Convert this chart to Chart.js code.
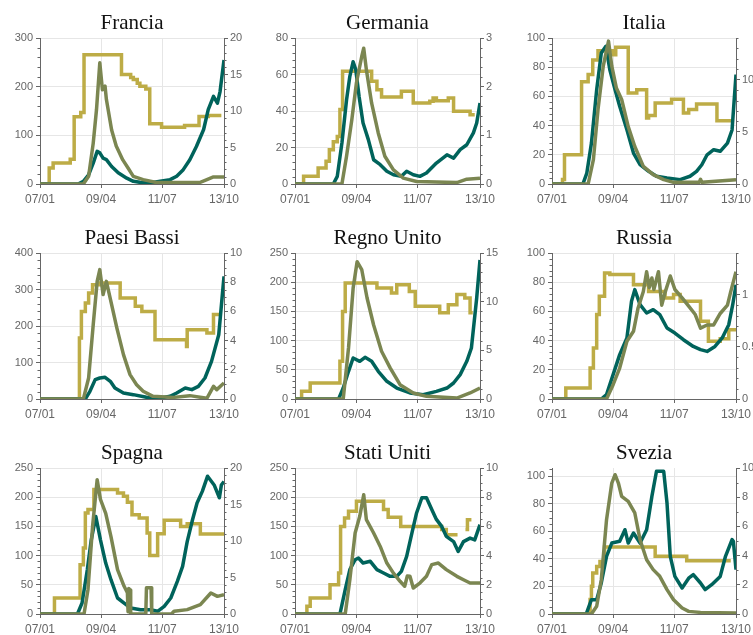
<!DOCTYPE html>
<html>
<head>
<meta charset="utf-8">
<script src="https://cdn.jsdelivr.net/npm/chart.js@4.4.0/dist/chart.umd.min.js"></script>
<style>
html, body { margin: 0; padding: 0; background: #fff; overflow: hidden; }
#wrap { position: relative; width: 753px; height: 635px; overflow: hidden; }
#wrap canvas { position: absolute; }
</style>
</head>
<body>
<div id="wrap"></div>
<script>
// asse x: giorni dal 7 gennaio 2020
const xTickDays = [0, 93, 186, 280];
const xTickLabels = ['07/01', '09/04', '11/07', '13/10'];

const paesi = ['Francia', 'Germania', 'Italia', 'Paesi Bassi', 'Regno Unito', 'Russia', 'Spagna', 'Stati Uniti', 'Svezia'];

const tickSinistra = [
    [0, 100, 200, 300], [0, 20, 40, 60, 80], [0, 20, 40, 60, 80, 100],
    [0, 100, 200, 300, 400], [0, 50, 100, 150, 200, 250], [0, 20, 40, 60, 80, 100],
    [0, 50, 100, 150, 200, 250], [0, 50, 100, 150, 200, 250], [0, 20, 40, 60, 80, 100]
];
const maxSinistra = [300, 80, 100, 400, 250, 100, 250, 250, 106];
const tickDestra = [
    [0, 5, 10, 15, 20], [0, 1, 2, 3], [0, 5, 10],
    [0, 2, 4, 6, 8, 10], [0, 5, 10, 15], [0, 0.5, 1],
    [0, 5, 10, 15, 20], [0, 2, 4, 6, 8, 10], [0, 2, 4, 6, 8, 10]
];
const maxDestra = [20, 3, 14, 10, 15, 1.4, 20, 10, 10];

// casi (asse sinistro), [giorno, valore]
const casiFrancia = [[0,0],[58,0],[66,5.5],[74,19],[81,43],[87,67],[91,64],[96,53],[101,50],[109,36],[119,23],[132,12],[142,5.5],[152,3.4],[167,2],[183,5.5],[198,9],[208,16],[218,29.5],[228,50],[238,77],[249,112],[256,153],[264,180],[270,166],[274,190],[280,255]];
const casiGermania = [[0,0],[58,0],[64,4.2],[71,22.5],[78,46],[83,59],[88,67],[92,62.6],[97,48],[103,33.4],[111,24.3],[119,13.3],[129,10.6],[139,7],[149,5.1],[161,4.2],[169,7],[179,5.1],[189,4.2],[199,6],[214,11.5],[230,16],[240,14.2],[250,18.8],[260,21.5],[270,28],[275,33.4],[280,44.4]];
const casiItalia = [[0,0],[47,0],[53,7.5],[60,28],[68,64.6],[75,89.7],[82,94.3],[88,78.3],[96,64.6],[103,53.2],[114,37.2],[124,21.2],[134,13.2],[147,8.7],[159,5.3],[175,4.1],[195,3],[210,5.3],[220,8.7],[228,13.2],[236,20],[246,23.5],[256,22.4],[267,28],[274,37],[280,75]];
const casiPaesiBassi = [[0,0],[69,0],[76,21],[84,53],[91,57.5],[99,59.4],[107,48.4],[114,30],[127,16.4],[142,11.9],[162,4.6],[183,2.7],[198,7.3],[208,16.4],[221,30],[231,25.6],[241,34.7],[251,57.5],[261,103],[272,176],[280,336]];
const casiRegnoUnito = [[0,0],[66,0],[73,18.8],[81,47.4],[88,70.2],[98,64.5],[106,71.3],[116,64.5],[126,47.4],[139,30.3],[154,18.8],[174,10.3],[194,7.4],[214,13.1],[230,18.8],[240,27.4],[250,41.7],[260,64.5],[267,87.3],[275,173],[280,238]];
const casiRussia = [[0,0],[75,0],[83,3],[93,16.7],[103,30.4],[114,41.8],[121,66.9],[126,74.9],[134,64.6],[144,58.9],[154,61.2],[164,57.8],[175,48.6],[187,45.2],[200,40.6],[215,36],[226,33.8],[236,32.6],[248,36],[259,41.8],[269,50.9],[275,64.6],[280,78.3]];
const casiSpagna = [[0,0],[57,0],[64,18.8],[72,75.9],[78,127],[85,167],[92,127],[100,87.3],[108,58.8],[118,27.4],[128,18.8],[138,10.3],[153,7.4],[168,7.4],[179,4.6],[189,13.1],[199,27.4],[209,55.9],[217,81.6],[224,124],[232,161],[239,190],[247,210],[255,236],[265,221],[273,199],[276,221],[280,227]];
const casiStatiUniti = [[0,0],[68,0],[76,41.7],[83,75.9],[91,93],[96,95.9],[103,87.3],[114,90.2],[124,75.9],[134,70.2],[144,64.5],[154,64.5],[161,73],[169,98.7],[177,139],[184,173],[192,199],[199,199],[207,179],[214,162],[222,150],[229,133],[240,124],[247,107],[255,124],[265,130],[272,127],[280,153]];
const casiSvezia = [[0,0],[52,0],[60,10.4],[68,10.4],[75,22.5],[83,41.9],[91,51.5],[103,52.8],[111,61.2],[116,51.5],[124,58.8],[134,51.5],[144,61.2],[152,85.4],[159,103.6],[170,103.6],[175,80.6],[180,41.9],[187,27.3],[198,18.9],[208,26],[215,28.6],[226,22.5],[233,17.7],[243,21.3],[256,27.3],[264,41.9],[274,54],[276,52.8],[280,32.2]];

// decessi (asse destro)
const mortiFrancia = [[0,0],[66,0],[74,1.05],[81,5.6],[86,10.2],[91,16.6],[95,12.9],[99,13.4],[101,11.6],[109,7.4],[116,5.2],[126,3.3],[134,2.2],[142,1.05],[157,0.6],[177,0.2],[243,0.2],[254,0.6],[264,0.96],[280,0.96]];
const mortiGermania = [[0,0],[71,0],[78,0.57],[86,1.32],[93,2.08],[101,2.62],[104,2.79],[108,2.35],[116,1.66],[126,1.05],[136,0.57],[149,0.29],[164,0.12],[184,0.05],[245,0.03],[260,0.1],[280,0.12]];
const mortiItalia = [[0,0],[55,0],[63,2.33],[70,7.13],[78,11.3],[86,13.7],[91,11.3],[98,9.2],[106,8.1],[116,5.5],[126,3.6],[139,1.69],[154,0.9],[170,0.42],[185,0.16],[224,0.16],[226,0.45],[228,0.16],[280,0.42]];
const mortiPaesiBassi = [[0,0],[66,0],[74,1.44],[81,5.1],[87,8.06],[91,8.86],[96,7.15],[101,8.06],[109,6.46],[117,4.86],[127,3.04],[137,1.67],[147,0.98],[157,0.53],[172,0.18],[203,0.11],[228,0.23],[254,0.05],[264,0.87],[269,0.64],[280,1.1]];
const mortiRegnoUnito = [[0,0],[73,0],[81,5.24],[88,11.4],[94,14.1],[101,13.3],[109,10.4],[119,7.6],[131,4.9],[144,3.2],[159,1.47],[179,0.62],[199,0.27],[245,0.1],[265,0.62],[280,1.13]];
const mortiRussia = [[0,0],[83,0],[93,0.137],[103,0.297],[114,0.553],[124,0.649],[131,0.873],[139,1.03],[144,1.22],[148,1.07],[152,1.16],[155,1.05],[162,1.22],[167,0.9],[172,1.02],[180,1.18],[187,1.05],[198,0.97],[208,0.89],[218,0.81],[226,0.68],[236,0.71],[246,0.71],[256,0.82],[267,0.9],[272,1.03],[280,1.22]];
const mortiSpagna = [[0,0],[67,0],[73,3.33],[80,12],[87,18.4],[92,15.7],[100,13.8],[108,10.6],[118,6.07],[128,3.79],[133,2.9],[134,0.3],[135,3.5],[137,3.3],[138,0],[161,0],[162,3.6],[169,3.6],[170,0],[200,0],[204,0.37],[224,0.6],[244,1.28],[260,2.88],[270,2.42],[280,2.65]];
const mortiStatiUniti = [[0,0],[76,0],[83,2.35],[91,5.55],[98,6.69],[104,8.17],[108,6.46],[119,5.55],[129,4.63],[139,3.49],[149,2.8],[159,2.24],[166,1.9],[170,2.6],[174,2.58],[179,1.78],[189,2.12],[199,2.58],[207,3.38],[217,3.49],[229,3.04],[245,2.58],[255,2.35],[265,2.12],[280,2.12]];
const mortiSvezia = [[0,0],[60,0],[68,0.53],[75,2.35],[83,6.46],[91,8.97],[96,9.54],[101,8.97],[106,8.06],[116,7.72],[126,6.92],[134,5.09],[144,3.72],[154,3.04],[164,2.58],[175,1.67],[185,0.98],[198,0.41],[208,0.18],[226,0.11],[280,0.07]];

// indice di restrizione (0-100, scala nascosta)
const restrFrancia = [[0,0],[14,11],[20,14.4],[46,17],[52,46],[62,49],[67,88.6],[124,75],[138,73],[142,71.5],[148,69],[152,67],[161,65],[167,41.3],[185,38.8],[220,40],[242,46.3],[256,47],[276,47]];
const restrGermania = [[0,0],[13,5.3],[35,11],[47,15.5],[52,23.5],[58,29],[64,32.6],[68,51],[72,77.2],[116,70.3],[124,64.6],[131,59.6],[161,63.5],[179,55.5],[204,56.6],[209,58.9],[214,57.1],[232,58.9],[240,49.8],[265,47.5],[272,47.5]];
const restrItalia = [[0,0],[16,3],[19,20],[45,70],[55,75],[62,85],[70,91.3],[93,88.6],[97,93.6],[116,62.3],[129,64.6],[144,45.2],[147,47],[157,55.5],[182,58],[200,48.6],[208,51],[220,54.8],[251,43.4],[276,43.4]];
const restrPaesiBassi = [[0,0],[60,41.8],[63,60],[69,65.8],[74,72.6],[80,78.3],[91,79.5],[122,69.2],[145,63.5],[155,60],[175,40.6],[222,40.6],[223,36],[224,47.5],[254,45.2],[264,57.8],[274,57.8]];
const restrRegnoUnito = [[0,0],[10,5.3],[23,11],[68,25.8],[72,60],[76,79.5],[124,76],[146,72.6],[154,78.3],[173,73.7],[182,63.5],[219,59],[232,64.6],[245,71.5],[257,69.2],[265,59],[269,59]];
const restrRussia = [[0,0],[21,7.5],[58,21.2],[63,35],[68,57.8],[72,70.3],[80,86.3],[88,85.2],[124,78.3],[147,73.7],[172,69.2],[185,71.5],[195,66.9],[226,53.2],[238,39.5],[256,41.3],[269,47.5],[280,47.5]];
const restrSpagna = [[0,0],[22,11],[61,33.8],[66,45.2],[69,69.2],[73,71.5],[82,85.2],[118,82.9],[127,80.6],[133,76.5],[140,68],[151,65.8],[163,55.5],[167,40],[179,55],[189,64.2],[214,60],[224,61.9],[244,54.8],[280,54.8]];
const restrStatiUniti = [[0,0],[18,5.3],[23,11],[53,20],[66,28],[69,60],[75,65.8],[81,70.3],[93,77.2],[134,71.5],[141,66.2],[160,60],[222,57.8],[229,54.3],[246,54.3],[247,null],[258,57.8],[261,64.6],[267,64.6]];
const restrSvezia = [[0,0],[58,10],[60,19],[62,28],[68,32.6],[73,36],[80,45.9],[157,39.5],[205,36.5],[272,36.5]];

const casi = [casiFrancia, casiGermania, casiItalia, casiPaesiBassi, casiRegnoUnito, casiRussia, casiSpagna, casiStatiUniti, casiSvezia];
const morti = [mortiFrancia, mortiGermania, mortiItalia, mortiPaesiBassi, mortiRegnoUnito, mortiRussia, mortiSpagna, mortiStatiUniti, mortiSvezia];
const restr = [restrFrancia, restrGermania, restrItalia, restrPaesiBassi, restrRegnoUnito, restrRussia, restrSpagna, restrStatiUniti, restrSvezia];

// tacche secondarie
const minoriSinistra = [20, 4, 4, 20, 10, 4, 10, 10, 5];
const minoriDestra = [1, 0.2, 1, 0.5, 1, 0.1, 1, 0.5, 1];

const TEAL = '#00635b';
const OLIVE = '#7b8651';
const GOLD = '#bdac46';
const AXIS = '#666';
const GRID = '#e6e6e6';
const TICK_FONT = { family: 'Liberation Sans', size: 11 };
const X_FONT = { family: 'Liberation Sans', size: 12 };

const colLefts = [0, 255, 512];
const colWidths = [264, 265, 264];
const rowTops = [0, 215, 430];

const minorTicks = {
    id: 'minorTicks',
    afterDraw(chart, args, opts) {
        const ctx = chart.ctx;
        ctx.save();
        ctx.strokeStyle = AXIS;
        ctx.lineWidth = 1;
        [['yL', opts.left, -1], ['yR', opts.right, 1]].forEach(([id, step, dir]) => {
            const s = chart.scales[id];
            const x0 = dir < 0 ? chart.chartArea.left : chart.chartArea.right;
            for (let k = 1; k * step < s.max + 1e-9; k++) {
                const v = k * step;
                if (s.ticks.some(t => Math.abs(t.value - v) < 1e-6)) continue;
                const y = Math.round(s.getPixelForValue(v)) + 0.5;
                ctx.beginPath();
                ctx.moveTo(x0, y);
                ctx.lineTo(x0 + dir * 2.5, y);
                ctx.stroke();
            }
        });
        ctx.restore();
    }
};

const toXY = pts => pts.map(([x, y]) => ({ x, y }));

function lineSet(data, color, axis) {
    return {
        data: toXY(data),
        yAxisID: axis,
        borderColor: color,
        backgroundColor: color,
        borderWidth: 3.5,
        pointRadius: 0,
        tension: 0,
        fill: false,
        spanGaps: false,
        borderJoinStyle: 'round'
    };
}

const wrap = document.getElementById('wrap');

paesi.forEach((nome, i) => {
    const col = i % 3;
    const row = Math.floor(i / 3);
    const canvas = document.createElement('canvas');
    canvas.width = colWidths[col];
    canvas.height = 210;
    canvas.style.left = colLefts[col] + 'px';
    canvas.style.top = rowTops[row] + 'px';
    canvas.style.width = colWidths[col] + 'px';
    canvas.style.height = '210px';
    wrap.appendChild(canvas);

    const stepped = Object.assign(lineSet(restr[i], GOLD, 'yS'), { stepped: 'before', borderJoinStyle: 'miter' });

    new Chart(canvas, {
        type: 'line',
        data: {
            datasets: [
                lineSet(morti[i], OLIVE, 'yR'),
                lineSet(casi[i], TEAL, 'yL'),
                stepped
            ]
        },
        options: {
            responsive: false,
            animation: false,
            devicePixelRatio: 1,
            layout: { padding: 0, autoPadding: false },
            plugins: {
                legend: { display: false },
                tooltip: { enabled: false },
                title: {
                    display: true,
                    text: nome,
                    color: '#111',
                    font: { family: 'Liberation Serif', size: 21, weight: 'normal', lineHeight: 1.2 },
                    padding: { top: 10.4, bottom: 2.4 }
                },
                minorTicks: { left: minoriSinistra[i], right: minoriDestra[i] }
            },
            scales: {
                x: {
                    type: 'linear',
                    min: 0,
                    max: 280,
                    afterBuildTicks: s => { s.ticks = xTickDays.map(v => ({ value: v })); },
                    afterFit: s => { s.height = 26; },
                    ticks: {
                        autoSkip: false,
                        maxRotation: 0,
                        padding: 4,
                        color: AXIS,
                        font: X_FONT,
                        callback: (v, idx) => xTickLabels[idx]
                    },
                    grid: { color: GRID, tickColor: AXIS, tickLength: 4 },
                    border: { color: AXIS }
                },
                yL: {
                    type: 'linear',
                    position: 'left',
                    min: 0,
                    max: maxSinistra[i],
                    afterBuildTicks: s => { s.ticks = tickSinistra[i].map(v => ({ value: v })); },
                    afterFit: s => { s.width = 40; },
                    ticks: { color: AXIS, font: TICK_FONT, padding: 3, callback: v => v },
                    grid: { color: GRID, tickColor: AXIS, tickLength: 4 },
                    border: { color: AXIS }
                },
                yR: {
                    type: 'linear',
                    position: 'right',
                    min: 0,
                    max: maxDestra[i],
                    afterBuildTicks: s => { s.ticks = tickDestra[i].map(v => ({ value: v })); },
                    afterFit: s => { s.width = 40; },
                    ticks: { color: AXIS, font: TICK_FONT, padding: 2, callback: v => v },
                    grid: { drawOnChartArea: false, tickColor: AXIS, tickLength: 4 },
                    border: { color: AXIS }
                },
                yS: {
                    type: 'linear',
                    display: false,
                    min: 0,
                    max: 100
                }
            }
        },
        plugins: [minorTicks]
    });
});
</script>
</body>
</html>
